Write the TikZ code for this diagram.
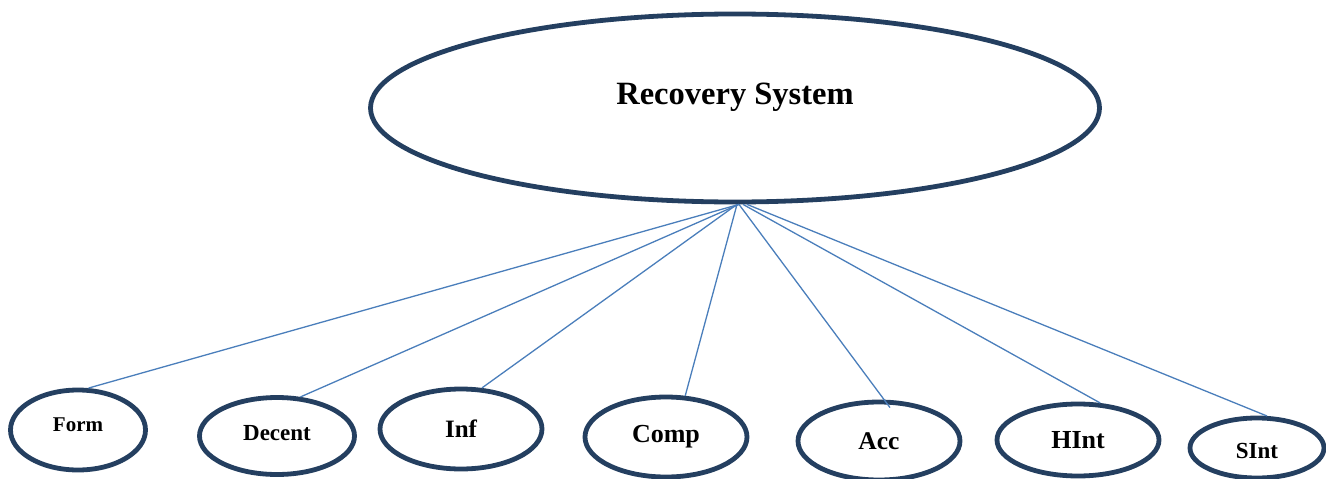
\documentclass[tikz,border=0pt]{standalone}
\usepackage{fontspec}
\setmainfont{Liberation Serif}
\usetikzlibrary{shapes.geometric}
\definecolor{contorn}{HTML}{243F60}
\definecolor{branca}{HTML}{4A7EBB}
\newcommand\mida[1]{\fontsize{#1}{#1}\selectfont}
\tikzset{
  oval/.style={ellipse, draw=contorn, line width=4.8pt, inner sep=0pt, font=\bfseries},
  fulla/.style={oval, minimum width=162pt, minimum height=78pt},
  enllac/.style={draw=branca, line width=1.3pt},
}

\begin{document}
\begin{tikzpicture}[x=1pt,y=-1pt]
  \useasboundingbox (0,0) rectangle (1326,479);

  % Sistema principal.
  \node[oval, minimum width=729pt, minimum height=188pt, text depth=28pt,
        font=\bfseries\mida{32.5}] (sys) at (735,108) {Recovery System};

  % Components de la fila inferior.
  \node[fulla, minimum width=135pt, minimum height=80pt, text depth=10pt, font=\bfseries\mida{21}] (form) at (78,430) {Form};
  \node[fulla, minimum width=155pt, minimum height=77pt, text depth=6pt, font=\bfseries\mida{23}] (decent) at (277,436) {Decent};
  \node[fulla, minimum height=80pt, font=\bfseries\mida{25}] (inf) at (461,429) {Inf};
  \node[fulla, minimum height=80pt, font=\bfseries\mida{26}] (comp) at (666,437) {Comp};
  \node[fulla, font=\bfseries\mida{25.5}] (acc) at (879,441) {Acc};
  \node[fulla, minimum height=72pt, font=\bfseries\mida{26}] (hint) at (1078,440) {HInt};
  \node[fulla, minimum width=134pt, minimum height=60pt, text height=22pt, font=\bfseries\mida{23}] (sint) at (1257,448) {SInt};

  % Branques des del sistema.
  \draw[enllac] ([xshift=4pt]sys.south) -- (form.76);
  \draw[enllac] ([xshift=4pt]sys.south) -- (decent.59);
  \draw[enllac] ([xshift=2pt]sys.south) -- (inf.63);
  \draw[enllac] ([xshift=2pt]sys.south) -- (comp.65);
  \draw[enllac] ([xshift=4pt]sys.south) -- ([xshift=11pt,yshift=-8pt]acc.north);
  \draw[enllac] ([xshift=8pt]sys.south) -- (hint.59);
  \draw[enllac] ([xshift=12pt]sys.south) -- (sint.73);
\end{tikzpicture}
\end{document}
